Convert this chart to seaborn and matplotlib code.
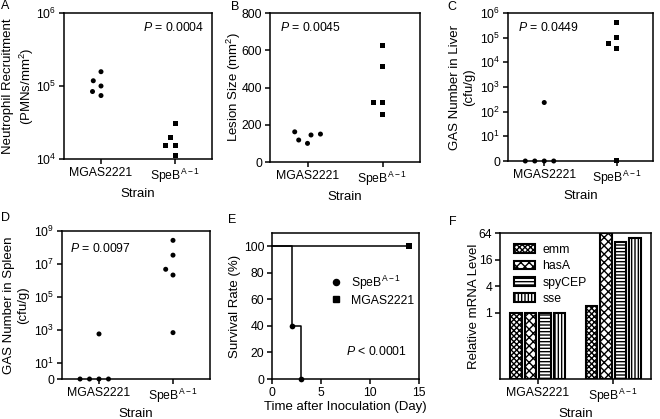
import numpy as np
import pandas as pd
import matplotlib
matplotlib.use("Agg")
import matplotlib.pyplot as plt
import seaborn as sns
from matplotlib.patches import Patch
from matplotlib.lines import Line2D
from matplotlib.ticker import NullLocator

# ---------------- data ----------------
strains = ["MGAS2221", "SpeB"]
strain_ticklabels = ["MGAS2221", r"SpeB$^{\mathregular{A-1}}$"]

a_mgas = [1.18e5, 1.57e5, 1.0e5, 7.4e4, 8.4e4]
a_speb = [3.1e4, 2.0e4, 1.55e4, 1.55e4, 1.11e4]

b_mgas = [150, 145, 100, 162, 118]
b_speb = [625, 512, 322, 320, 255]

c_mgas = [235, 0, 0, 0, 0]
c_speb = [4.2e5, 1.0e5, 5.9e4, 3.7e4, 0]

d_mgas = [550, 0, 0, 0, 0]
d_speb = [2.7e8, 3.4e7, 4.7e6, 2.1e6, 660]

e_days_speb = [0, 2, 3]
e_surv_speb = [100, 40, 0]
e_days_mgas = [0, 14]
e_surv_mgas = [100, 100]
e_event_days_speb = [2, 3]
e_event_surv_speb = [40, 0]
e_event_days_mgas = [14]
e_event_surv_mgas = [100]

genes = ["emm", "hasA", "spyCEP", "sse"]
f_mgas = [1.0, 1.0, 1.0, 1.0]
f_speb = [1.45, 64, 39, 50]
f_floor = 1 / 32            # bottom of the log2 axis
f_ticks = [1, 4, 16, 64]
hatches = ["xxxxxx", "xxxx", "-----", "|||||"]

# ---------------- style ----------------
sns.set_theme(style="ticks")
plt.rcParams.update({
    "font.family": ["Liberation Sans", "DejaVu Sans"],
    "mathtext.fontset": "custom",
    "mathtext.rm": "Liberation Sans",
    "mathtext.it": "Liberation Sans:italic",
    "mathtext.bf": "Liberation Sans:bold",
    "axes.linewidth": 1.1,
    "xtick.major.width": 1.1, "ytick.major.width": 1.1,
    "xtick.major.size": 3.5, "ytick.major.size": 3.5,
    "xtick.major.pad": 2, "ytick.major.pad": 2,
    "xtick.labelsize": 8.8, "ytick.labelsize": 8.8,
    "axes.labelsize": 9.5,
    "hatch.linewidth": 1.0,
    "axes.edgecolor": "black", "xtick.color": "black", "ytick.color": "black",
    "text.color": "black", "axes.labelcolor": "black",
})

fig = plt.figure(figsize=(6.6, 4.19), dpi=100)
W, H = 660, 419


def add_ax(l, r, t, b):
    return fig.add_axes([l / W, 1 - b / H, (r - l) / W, (b - t) / H])


axA = add_ax(64, 212, 13, 159)
axB = add_ax(270, 420, 13, 162)
axC = add_ax(508, 653, 13, 161)
axD = add_ax(62, 210, 231, 379)
axE = add_ax(272, 419, 233, 379)
axF = add_ax(500, 651, 233, 379)

MS = 3.6      # marker diameter (pt)
SPACE = 2.9   # invisible edge, widens swarm spacing


def swarm(ax, vals, strain, marker, log):
    df = pd.DataFrame({"strain": strain, "value": vals})
    sns.swarmplot(data=df, x="strain", y="value", order=strains, marker=marker,
                  color="black", size=MS, linewidth=SPACE, edgecolor="none",
                  log_scale=log, clip_on=False, ax=ax)
    # drop the empty collection made for the other (absent) category
    for c in list(ax.collections):
        if len(c.get_offsets()) == 0:
            c.remove()


def finish_cat(ax, ylabel, ylab_x):
    ax.set_xticks([0, 1])
    ax.set_xticklabels(strain_ticklabels)
    ax.set_xlim(-0.5, 1.5)
    ax.set_xlabel("Strain", labelpad=2)
    ax.set_ylabel(ylabel, linespacing=1.25)
    ax.yaxis.set_label_coords(ylab_x, 0.5)
    ax.yaxis.set_minor_locator(NullLocator())
    for s in ax.spines.values():
        s.set_visible(True)


# ---- A ----
swarm(axA, a_mgas, "MGAS2221", "o", True)
swarm(axA, a_speb, "SpeB", "s", True)
axA.set_ylim(1e4, 1e6)
axA.set_yticks([1e4, 1e5, 1e6])
axA.set_yticklabels([r"10$^4$", r"10$^5$", r"10$^6$"])
finish_cat(axA, "Neutrophil Recruitment\n(PMNs/mm$^2$)", -0.19)
axA.text(0.74, 0.90, r"$\mathit{P}$ = 0.0004", transform=axA.transAxes,
         ha="center", va="center", fontsize=8.8)

# ---- B ----
swarm(axB, b_mgas, "MGAS2221", "o", False)
swarm(axB, b_speb, "SpeB", "s", False)
axB.set_ylim(0, 800)
axB.set_yticks([0, 200, 400, 600, 800])
finish_cat(axB, "Lesion Size (mm$^2$)", -0.18)
axB.text(0.27, 0.90, r"$\mathit{P}$ = 0.0045", transform=axB.transAxes,
         ha="center", va="center", fontsize=8.8)

# ---- C ----  (zero counts drawn at the axis floor)
swarm(axC, np.where(np.array(c_mgas) > 0, c_mgas, 1), "MGAS2221", "o", True)
swarm(axC, np.where(np.array(c_speb) > 0, c_speb, 1), "SpeB", "s", True)
axC.set_ylim(1, 1e6)
axC.set_yticks([1, 1e1, 1e2, 1e3, 1e4, 1e5, 1e6])
axC.set_yticklabels(["0"] + [r"10$^{%d}$" % k for k in range(1, 7)])
finish_cat(axC, "GAS Number in Liver\n(cfu/g)", -0.225)
axC.text(0.28, 0.90, r"$\mathit{P}$ = 0.0449", transform=axC.transAxes,
         ha="center", va="center", fontsize=8.8)

# ---- D ----
swarm(axD, np.where(np.array(d_mgas) > 0, d_mgas, 1), "MGAS2221", "o", True)
swarm(axD, np.where(np.array(d_speb) > 0, d_speb, 1), "SpeB", "o", True)
axD.set_ylim(1, 1e9)
axD.set_yticks([1, 1e1, 1e3, 1e5, 1e7, 1e9])
axD.set_yticklabels(["0"] + [r"10$^{%d}$" % k for k in (1, 3, 5, 7, 9)])
finish_cat(axD, "GAS Number in Spleen\n(cfu/g)", -0.22)
axD.text(0.26, 0.885, r"$\mathit{P}$ = 0.0097", transform=axD.transAxes,
         ha="center", va="center", fontsize=8.8)

# ---- E ----
df_e = pd.DataFrame({
    "day": e_days_speb + e_days_mgas,
    "surv": e_surv_speb + e_surv_mgas,
    "strain": ["SpeB"] * len(e_days_speb) + ["MGAS2221"] * len(e_days_mgas),
})
sns.lineplot(data=df_e, x="day", y="surv", hue="strain", palette=["black", "black"],
             drawstyle="steps-post", estimator=None, legend=False, lw=1.1,
             clip_on=False, ax=axE)
df_ev1 = pd.DataFrame({"day": e_event_days_speb, "surv": e_event_surv_speb})
df_ev2 = pd.DataFrame({"day": e_event_days_mgas, "surv": e_event_surv_mgas})
sns.scatterplot(data=df_ev1, x="day", y="surv", marker="o", color="black",
                s=MS ** 2 * 1.3, linewidth=0, clip_on=False, zorder=4, ax=axE)
sns.scatterplot(data=df_ev2, x="day", y="surv", marker="s", color="black",
                s=MS ** 2 * 1.3, linewidth=0, clip_on=False, zorder=4, ax=axE)
axE.set_xlim(0, 15)
axE.set_ylim(0, 110)
axE.set_xticks([0, 5, 10, 15])
axE.set_yticks([0, 20, 40, 60, 80, 100])
axE.set_xlabel("Time after Inoculation (Day)", labelpad=2)
axE.set_ylabel("Survival Rate (%)")
axE.yaxis.set_label_coords(-0.21, 0.5)
for s in axE.spines.values():
    s.set_visible(True)
handles = [Line2D([], [], marker="o", color="black", ls="none", markersize=4.4),
           Line2D([], [], marker="s", color="black", ls="none", markersize=4.2)]
axE.legend(handles, [r"SpeB$^{\mathregular{A-1}}$", "MGAS2221"], loc="center left",
           bbox_to_anchor=(0.31, 0.61), frameon=False, fontsize=8.8,
           handlelength=1.2, handletextpad=0.6, labelspacing=0.25)
axE.text(0.71, 0.185, r"$\mathit{P}$ < 0.0001", transform=axE.transAxes,
         ha="center", va="center", fontsize=8.8)

# ---- F ---- (log2 axis drawn as doublings above the 1/32 floor)
f_level = np.array(f_mgas + f_speb)
df_f = pd.DataFrame({
    "strain": ["MGAS2221"] * len(genes) + ["SpeB"] * len(genes),
    "gene": genes * 2,
    "height": np.log2(f_level / f_floor),
})
sns.barplot(data=df_f, x="strain", y="height", hue="gene", order=strains,
            hue_order=genes, palette=["white"] * 4, edgecolor="black",
            linewidth=1.5, width=0.76, gap=0.2, legend=False,
            errorbar=None, ax=axF)
for cont, h in zip(axF.containers, hatches):
    for bar in cont:
        bar.set_hatch(h)
axF.set_ylim(0, np.log2(64 / f_floor))
axF.set_yticks(np.log2(np.array(f_ticks) / f_floor))
axF.set_yticklabels([str(t) for t in f_ticks])
finish_cat(axF, "Relative mRNA Level", -0.13)
leg_handles = [Patch(facecolor="white", edgecolor="black", hatch=h, linewidth=1.5)
               for h in hatches]
axF.legend(leg_handles, genes, loc="upper left", bbox_to_anchor=(0.02, 1.0),
           frameon=False, fontsize=8.8, handlelength=1.7, handleheight=0.75,
           handletextpad=0.6, labelspacing=0.35)

# ---- panel letters ----
for lab, (x, y) in {"A": (5, 6), "B": (235, 7), "C": (452, 7),
                    "D": (5, 218), "E": (232, 220), "F": (453, 222)}.items():
    fig.text(x / W, 1 - y / H, lab, ha="center", va="center", fontsize=9)

fig.savefig("out.png", dpi=100)
